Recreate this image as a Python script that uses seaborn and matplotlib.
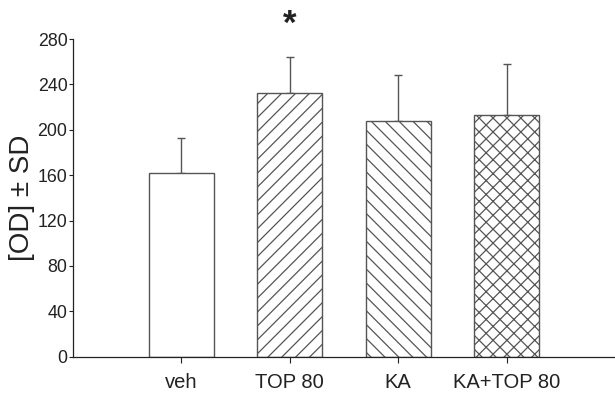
import matplotlib
matplotlib.use("Agg")
import matplotlib.pyplot as plt
import seaborn as sns
import pandas as pd

groups = ["veh", "TOP 80", "KA", "KA+TOP 80"]
means = [162, 232, 208, 213]
sds = [31, 32, 40, 45]
hatches = ["", "///", "\\\\\\", "xxx"]
yticks = [0, 40, 80, 120, 160, 200, 240, 280]

DPI = 125
k = 100 / DPI  # keep pixel sizes as designed at 100 dpi

sns.set_style("ticks")
plt.rcParams['font.family'] = ['Liberation Sans', 'DejaVu Sans']
plt.rcParams['hatch.linewidth'] = 0.9 * k
plt.rcParams['hatch.color'] = '#222222'

df = pd.DataFrame({"group": groups, "mean": means, "sd": sds})

fig = plt.figure(figsize=(615 / DPI, 394 / DPI), dpi=DPI)
ax = fig.add_axes([0.1187, 0.0947, 0.8813, 0.8063])

sns.barplot(data=df, x="group", y="mean", order=groups, color="white",
            width=0.6, edgecolor="#555555", linewidth=1.0 * k, ax=ax, errorbar=None)
for patch, h in zip(ax.patches, hatches):
    patch.set_hatch(h)
    patch.set_facecolor("white")
    patch.set_zorder(2)

ax.errorbar(range(len(groups)), means, yerr=[[0] * len(sds), sds], fmt="none",
            ecolor="#555555", elinewidth=1.0 * k, capsize=2.8 * k, capthick=1.0 * k, zorder=1)

ax.set_xlim(-1, 4)
ax.set_ylim(0, 280)
ax.set_yticks(yticks)
ax.set_yticklabels([str(t) for t in yticks], fontsize=12.8 * k, color="#222222")
ax.tick_params(axis="y", length=3 * k, width=0.8 * k, pad=1 * k, colors="#222222")
ax.tick_params(axis="x", length=4 * k, width=0.8 * k, direction="out",
               labelsize=14.5 * k, pad=8 * k, colors="#222222")
ax.set_xlabel("")
ax.set_ylabel("[OD] ± SD", fontsize=20 * k, color="#222222", labelpad=2 * k)
for s in ["top", "right"]:
    ax.spines[s].set_visible(False)
for s in ["left", "bottom"]:
    ax.spines[s].set_linewidth(0.9 * k)
    ax.spines[s].set_color("#222222")

ax.text(1, 293, "*", ha="center", va="center", fontsize=25 * k, fontweight="bold",
        color="#222222", clip_on=False)

fig.savefig("out.png", dpi=DPI)
